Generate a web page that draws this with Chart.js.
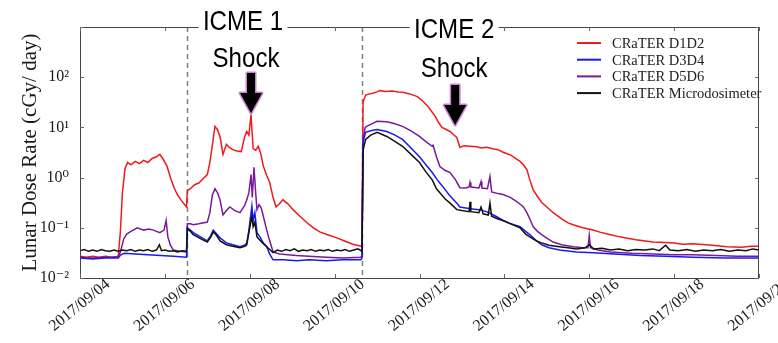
<!DOCTYPE html>
<html><head><meta charset="utf-8">
<script src="https://cdn.jsdelivr.net/npm/chart.js@4.4.0/dist/chart.umd.min.js"></script>
<style>html,body{margin:0;padding:0;background:#fff;}#wrap{width:778px;height:343px;}</style>
</head><body><div id="wrap"><canvas id="c" width="778" height="343"></canvas></div>
<script>
// ---- data (days since 2017/09/04 00:00) ----
const xTickDays = [0, 2, 4, 6, 8, 10, 12, 14, 16];
const xTickLabels = ['2017/09/04','2017/09/06','2017/09/08','2017/09/10','2017/09/12','2017/09/14','2017/09/16','2017/09/18','2017/09/20'];
const yTickValues = [0.01, 0.1, 1, 10, 100, 1000];
const yTickLabels = ['10\u207B\u00B2','10\u207B\u00B9','10\u2070','10\u00B9','10\u00B2',''];
const seriesNames = ['CRaTER D1D2','CRaTER D3D4','CRaTER D5D6','CRaTER Microdosimeter'];
const seriesColors = ['#f01a1a','#1a1aee','#7a1a96','#111111'];

const d1d2Days = [0,0.15,0.3,0.45,0.6,0.75,0.9,0.95,1.0,1.06,1.12,1.2,1.3,1.4,1.5,1.6,1.7,1.8,1.88,1.95,2.05,2.15,2.22,2.3,2.38,2.45,2.51,2.53,2.6,2.7,2.8,2.9,3.0,3.06,3.12,3.18,3.24,3.3,3.37,3.45,3.52,3.6,3.7,3.8,3.88,3.93,3.98,4.03,4.08,4.14,4.2,4.26,4.32,4.4,4.47,4.55,4.62,4.7,4.78,4.9,5.02,5.15,5.35,5.5,5.65,5.85,6.05,6.25,6.43,6.62,6.645,6.67,6.73,6.8,6.9,7.0,7.06,7.2,7.35,7.5,7.6,7.75,7.95,8.1,8.2,8.3,8.37,8.45,8.53,8.62,8.72,8.8,8.88,8.95,9.05,9.19,9.35,9.45,9.58,9.75,9.85,9.97,10.15,10.37,10.45,10.53,10.6,10.68,10.78,10.88,11.0,11.15,11.35,11.5,11.62,11.85,12.09,12.25,12.4,12.72,12.9,13.1,13.5,13.8,14.0,14.2,14.44,14.9,15.24,15.6,15.8,16.0];
const d1d2Vals = [0.027,0.026,0.027,0.026,0.027,0.026,0.027,0.08,0.5,1.5,2.0,1.8,2.1,1.9,2.2,2.0,2.4,2.6,2.9,2.4,1.7,0.9,0.62,0.45,0.36,0.30,0.26,0.55,0.6,0.72,0.78,0.95,1.15,2.0,4.5,10.5,9.0,6.5,2.9,4.6,4.0,3.6,3.4,3.3,6.5,8.3,7.0,18,3.8,3.5,4.2,3.0,1.7,1.1,0.8,0.4,0.26,0.30,0.36,0.30,0.23,0.18,0.126,0.10,0.083,0.072,0.063,0.054,0.047,0.043,0.044,32,44,46,48,51,54,52,53,51,50,47,41,32,26,20,16.6,12.5,10,9.2,8.3,7.2,6.3,4.0,4.3,4.2,4.1,3.9,4.0,3.7,3.6,3.2,2.8,2.1,1.8,1.45,0.9,0.57,0.42,0.32,0.26,0.20,0.15,0.125,0.115,0.10,0.09,0.082,0.076,0.066,0.062,0.058,0.052,0.051,0.050,0.047,0.048,0.045,0.042,0.041,0.043,0.043];

const d3d4Days = [0,0.3,0.6,0.9,0.96,1.05,1.3,1.6,1.9,2.2,2.51,2.53,2.6,2.67,2.85,3.0,3.08,3.14,3.22,3.3,3.45,3.6,3.77,3.88,3.93,3.98,4.05,4.08,4.12,4.17,4.24,4.32,4.4,4.47,4.55,4.8,5.1,5.4,5.8,6.2,6.62,6.645,6.67,6.73,6.85,7.0,7.23,7.4,7.6,7.8,8.0,8.15,8.3,8.42,8.55,8.7,8.88,8.95,9.2,9.4,9.58,9.8,9.97,10.15,10.37,10.5,10.6,10.75,10.88,11.05,11.3,11.7,12.09,12.6,13.2,13.8,14.44,15.2,16.0];
const d3d4Vals = [0.025,0.024,0.025,0.025,0.029,0.031,0.030,0.029,0.028,0.027,0.026,0.10,0.09,0.08,0.065,0.055,0.07,0.09,0.075,0.063,0.05,0.046,0.042,0.045,0.05,0.09,0.27,0.14,0.2,0.08,0.066,0.05,0.042,0.03,0.023,0.023,0.022,0.023,0.022,0.023,0.023,0.025,5,8,8.6,9.1,8.3,7.2,5.75,3.9,2.6,1.8,1.26,0.9,0.66,0.45,0.31,0.26,0.24,0.23,0.21,0.17,0.14,0.12,0.105,0.085,0.073,0.056,0.046,0.040,0.036,0.033,0.032,0.030,0.028,0.027,0.026,0.025,0.025];

const d5d6Days = [0,0.3,0.6,0.9,0.96,1.03,1.1,1.2,1.35,1.5,1.62,1.73,1.88,1.98,2.03,2.07,2.13,2.2,2.35,2.51,2.53,2.6,2.67,2.8,3.0,3.06,3.12,3.18,3.24,3.3,3.37,3.45,3.53,3.65,3.77,3.88,3.93,3.98,4.03,4.06,4.1,4.14,4.17,4.22,4.27,4.32,4.4,4.47,4.55,4.7,4.9,5.1,5.4,5.8,6.2,6.62,6.645,6.67,6.72,6.8,6.9,7.0,7.23,7.4,7.6,7.8,8.0,8.15,8.3,8.32,8.4,8.48,8.6,8.72,8.85,8.95,9.1,9.17,9.19,9.21,9.4,9.45,9.47,9.6,9.66,9.7,9.85,9.97,10.15,10.3,10.45,10.53,10.6,10.68,10.78,10.88,11.0,11.15,11.35,11.62,11.85,11.97,12.0,12.03,12.2,12.5,13.0,13.5,14.0,14.44,15.0,15.5,16.0];
const d5d6Vals = [0.026,0.025,0.026,0.026,0.035,0.06,0.075,0.085,0.10,0.09,0.095,0.09,0.08,0.09,0.14,0.066,0.045,0.036,0.034,0.033,0.12,0.12,0.115,0.12,0.13,0.2,0.45,0.6,0.5,0.36,0.18,0.22,0.26,0.22,0.2,0.28,0.36,0.5,1.15,0.4,1.6,0.5,0.23,0.29,0.25,0.17,0.09,0.055,0.033,0.030,0.029,0.028,0.027,0.026,0.025,0.026,0.028,6,10,11,12,13.2,13,12,10.5,8.5,6.6,5.2,4.2,4.4,2.6,1.66,1.4,1.26,0.9,0.63,0.62,0.66,0.8,0.65,0.62,0.83,0.62,0.6,1.05,0.52,0.48,0.46,0.4,0.33,0.26,0.2,0.15,0.105,0.085,0.073,0.062,0.052,0.046,0.042,0.040,0.040,0.07,0.040,0.036,0.033,0.031,0.030,0.029,0.029,0.028,0.027,0.027];

const microDays = [0,0.1,0.2,0.3,0.4,0.5,0.6,0.7,0.8,0.9,1.0,1.1,1.2,1.3,1.4,1.5,1.6,1.7,1.8,1.87,1.92,2.0,2.1,2.2,2.3,2.4,2.51,2.53,2.6,2.67,2.85,3.0,3.08,3.14,3.22,3.3,3.45,3.6,3.77,3.88,3.93,3.98,4.05,4.08,4.12,4.17,4.3,4.4,4.55,4.65,4.75,4.85,4.95,5.05,5.15,5.25,5.35,5.45,5.55,5.65,5.75,5.85,5.95,6.05,6.15,6.25,6.35,6.45,6.55,6.62,6.645,6.67,6.73,6.85,7.0,7.23,7.4,7.6,7.8,8.0,8.15,8.3,8.4,8.48,8.6,8.72,8.88,9.0,9.17,9.19,9.21,9.4,9.45,9.5,9.62,9.66,9.7,9.85,9.97,10.15,10.37,10.5,10.6,10.75,10.88,11.05,11.3,11.5,11.7,11.9,12.0,12.1,12.3,12.5,12.7,12.9,13.1,13.3,13.5,13.65,13.8,13.9,14.1,14.3,14.5,14.7,14.9,15.1,15.3,15.5,15.7,15.85,16.0];
const microVals = [0.035,0.037,0.034,0.036,0.034,0.037,0.035,0.034,0.036,0.034,0.036,0.035,0.037,0.034,0.036,0.035,0.037,0.034,0.036,0.046,0.035,0.036,0.034,0.035,0.033,0.035,0.034,0.095,0.085,0.073,0.06,0.052,0.065,0.083,0.07,0.055,0.046,0.043,0.04,0.043,0.046,0.08,0.17,0.105,0.13,0.066,0.05,0.042,0.032,0.036,0.034,0.037,0.035,0.038,0.034,0.036,0.035,0.037,0.034,0.036,0.035,0.037,0.034,0.036,0.035,0.037,0.034,0.036,0.038,0.035,0.034,3.5,5.75,7,8,6.6,5.4,4.2,2.9,2.0,1.3,0.9,0.6,0.5,0.38,0.31,0.23,0.22,0.21,0.33,0.21,0.2,0.26,0.19,0.18,0.31,0.17,0.15,0.14,0.12,0.10,0.075,0.066,0.055,0.05,0.045,0.042,0.040,0.038,0.040,0.046,0.038,0.039,0.036,0.038,0.035,0.037,0.036,0.038,0.035,0.045,0.036,0.035,0.037,0.034,0.036,0.035,0.037,0.034,0.036,0.035,0.038,0.036];

const eventLineDays = [2.52, 6.64];
const shockDays = [4.03, 8.84];
const shockTitles = ['ICME 1', 'ICME 2'];
const shockSub = 'Shock';

// ---- build datasets ----
function pts(d, v) { return d.map((x, i) => ({ x: x, y: v[i] })); }
const allDays = [d1d2Days, d3d4Days, d5d6Days, microDays];
const allVals = [d1d2Vals, d3d4Vals, d5d6Vals, microVals];
const drawOrder = [3, 1, 2, 0];
const datasets = seriesNames.map((n, i) => ({
  label: n, data: pts(allDays[i], allVals[i]), borderColor: seriesColors[i],
  backgroundColor: seriesColors[i], borderWidth: 1.5, pointRadius: 0, tension: 0,
  fill: false, order: drawOrder[i]
}));

const SERIF = '"Liberation Serif","DejaVu Serif",serif';
const SANS = '"Liberation Sans",Arial,sans-serif';

const decorPlugin = {
  id: 'decor',
  beforeDatasetsDraw(chart) {
    const { ctx, chartArea: a, scales } = chart;
    ctx.save();
    ctx.strokeStyle = '#808080'; ctx.lineWidth = 1.5; ctx.setLineDash([5, 4]);
    eventLineDays.forEach(d => {
      const x = Math.round(scales.x.getPixelForValue(d)) + 0.5;
      ctx.beginPath(); ctx.moveTo(x, a.top); ctx.lineTo(x, a.bottom); ctx.stroke();
    });
    ctx.restore();
  },
  afterDraw(chart) {
    const { ctx, chartArea: a, scales } = chart;
    ctx.save();
    ctx.strokeStyle = '#444'; ctx.lineWidth = 1;
    ctx.strokeRect(Math.round(a.left) + 0.5, Math.round(a.top) + 0.5, Math.round(a.right - a.left) - 1, Math.round(a.bottom - a.top));
    ctx.strokeStyle = '#666';
    xTickDays.forEach(d => {
      const x = Math.round(scales.x.getPixelForValue(d)) + 0.5;
      ctx.beginPath(); ctx.moveTo(x, a.bottom); ctx.lineTo(x, a.bottom - 4);
      ctx.moveTo(x, a.top); ctx.lineTo(x, a.top + 4); ctx.stroke();
    });
    yTickValues.forEach(v => {
      const y = Math.round(scales.y.getPixelForValue(v)) + 0.5;
      ctx.beginPath(); ctx.moveTo(a.left, y); ctx.lineTo(a.left + 4, y);
      ctx.moveTo(a.right, y); ctx.lineTo(a.right - 4, y); ctx.stroke();
    });
    // legend
    const lx = 577, ly = 43, lh = 16.7;
    ctx.font = '14.5px ' + SERIF; ctx.textBaseline = 'middle'; ctx.textAlign = 'left';
    chart.data.datasets.forEach((ds, i) => {
      const y = ly + i * lh;
      ctx.strokeStyle = ds.borderColor; ctx.lineWidth = 2;
      ctx.beginPath(); ctx.moveTo(lx, y); ctx.lineTo(lx + 24, y); ctx.stroke();
      ctx.fillStyle = '#222'; ctx.fillText(ds.label, lx + 35, y + 1);
    });
    // shock annotations
    const titleBase = [30, 38], subBase = [67, 77], arrowTop = [73, 85];
    const titleShift = [-8, -1], subShift = [-5, -1];
    shockDays.forEach((d, i) => {
      const cx = scales.x.getPixelForValue(d);
      ctx.save();
      ctx.font = '28px ' + SANS; ctx.textAlign = 'center'; ctx.textBaseline = 'alphabetic';
      ctx.save();
      ctx.translate(cx + titleShift[i], 0); ctx.scale(0.86, 1);
      const w = ctx.measureText(shockTitles[i]).width;
      ctx.fillStyle = '#fff';
      ctx.fillRect(-w / 2 - 5, titleBase[i] - 22, w + 10, 24);
      ctx.fillStyle = '#000';
      ctx.fillText(shockTitles[i], 0, titleBase[i]);
      ctx.restore();
      ctx.translate(cx + subShift[i], 0); ctx.scale(0.86, 1);
      ctx.fillStyle = '#000';
      ctx.fillText(shockSub, 0, subBase[i]);
      ctx.restore();
      const t = arrowTop[i], sw = 4, hw = 11, ht = t + 20, tip = t + 40;
      ctx.beginPath();
      ctx.moveTo(cx - sw, t); ctx.lineTo(cx + sw, t); ctx.lineTo(cx + sw, ht);
      ctx.lineTo(cx + hw, ht); ctx.lineTo(cx, tip); ctx.lineTo(cx - hw, ht);
      ctx.lineTo(cx - sw, ht); ctx.closePath();
      ctx.lineJoin = 'round';
      ctx.strokeStyle = 'rgba(190,90,200,0.75)'; ctx.lineWidth = 3; ctx.stroke();
      ctx.fillStyle = '#000'; ctx.fill();
    });
    ctx.restore();
  }
};

new Chart(document.getElementById('c'), {
  type: 'line',
  data: { datasets: datasets },
  options: {
    responsive: false, animation: false, devicePixelRatio: 1,
    layout: { padding: { top: 27, right: 19, left: 0, bottom: 0 } },
    plugins: { legend: { display: false }, tooltip: { enabled: false } },
    scales: {
      x: {
        type: 'linear', min: 0, max: 16,
        afterBuildTicks: s => { s.ticks = xTickDays.map(v => ({ value: v })); },
        afterFit: s => { s.height = 65; s.paddingLeft = 0; s.paddingRight = 0; },
        grid: { display: false }, border: { display: false },
        ticks: {
          autoSkip: false, maxRotation: 39, minRotation: 39, labelOffset: 28, padding: -11,
          color: '#1a1a1a', font: { family: SERIF, size: 16 },
          callback: v => { const i = xTickDays.indexOf(v); return i >= 0 ? xTickLabels[i] : ''; }
        }
      },
      y: {
        type: 'logarithmic', min: 0.01, max: 1000,
        afterBuildTicks: s => { s.ticks = yTickValues.map(v => ({ value: v })); },
        afterFit: s => { s.width = 80; s.paddingTop = 0; s.paddingBottom = 0; },
        grid: { display: false }, border: { display: false },
        ticks: {
          autoSkip: false, padding: 3, color: '#1a1a1a', font: { family: SERIF, size: 16 },
          callback: v => { const i = yTickValues.findIndex(t => Math.abs(Math.log10(t) - Math.log10(v)) < 1e-6); return i >= 0 ? yTickLabels[i] : ''; }
        },
        title: { display: true, text: 'Lunar Dose Rate (cGy/ day)', color: '#1a1a1a', font: { family: SERIF, size: 21 }, padding: { top: 18, bottom: 0 } }
      }
    }
  },
  plugins: [decorPlugin]
});
</script></body></html>
